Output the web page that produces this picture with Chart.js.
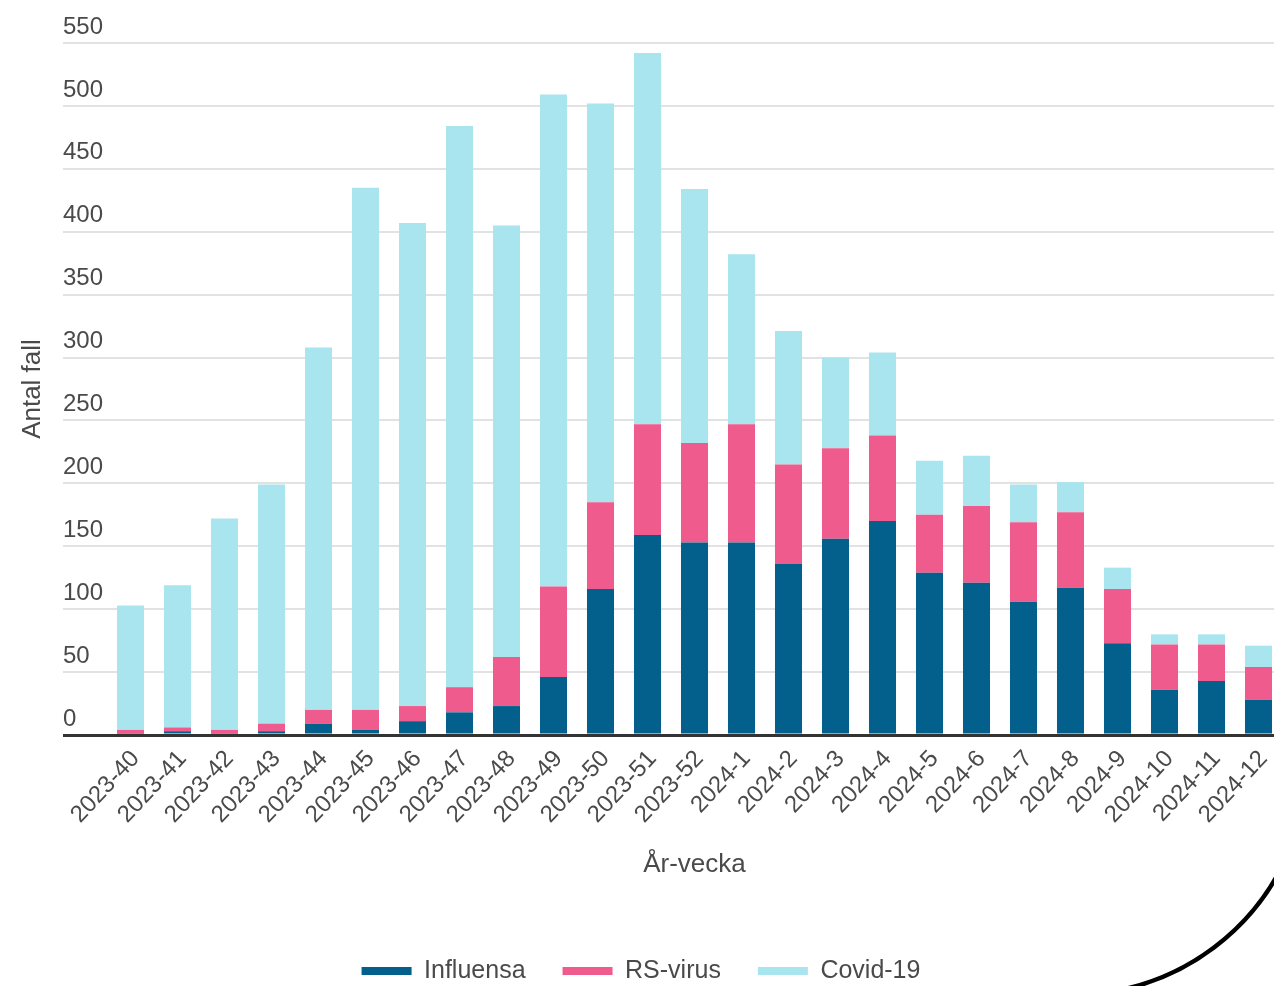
<!DOCTYPE html>
<html lang="sv">
<head>
<meta charset="utf-8">
<title>Antal fall per vecka</title>
<script src="https://cdn.jsdelivr.net/npm/chart.js@4/dist/chart.umd.min.js"></script>
<style>
  html, body { margin: 0; padding: 0; background: #fff; overflow: hidden; }
  canvas { display: block; }
</style>
</head>
<body>
<canvas id="myChart" width="1282" height="986"></canvas>
<script>
// veckor (år-vecka)
const labels = ['2023-40', '2023-41', '2023-42', '2023-43', '2023-44', '2023-45', '2023-46', '2023-47',
  '2023-48', '2023-49', '2023-50', '2023-51', '2023-52', '2024-1', '2024-2', '2024-3', '2024-4',
  '2024-5', '2024-6', '2024-7', '2024-8', '2024-9', '2024-10', '2024-11', '2024-12'];

// antal fall per sjukdom
const influensa = [1, 3, 1, 3, 9, 4, 11, 18, 23, 46, 116, 159, 153, 153, 136, 156, 170, 129, 121, 106, 117, 73, 36, 43, 28];
const rsVirus   = [3, 3, 3, 6, 11, 16, 12, 20, 39, 72, 69, 88, 79, 94, 79, 72, 68, 46, 61, 63, 60, 43, 36, 29, 26];
const covid19   = [99, 113, 168, 190, 288, 415, 384, 446, 343, 391, 317, 295, 202, 135, 106, 72, 66, 43, 40, 30, 24, 17, 8, 8, 17];

const yTicks = { min: 0, max: 550, step: 50 };

const textColor = '#4a4a4a';

// bågen nere till höger
const cornerArc = {
  id: 'cornerArc',
  afterDraw(chart) {
    const c = chart.ctx;
    c.save();
    c.beginPath();
    c.arc(1072, 759, 236, 0.45, 1.4);
    c.lineWidth = 4.5;
    c.strokeStyle = '#000';
    c.stroke();
    c.restore();
  }
};

const ctx = document.getElementById('myChart').getContext('2d');
const myChart = new Chart(ctx, {
  type: 'bar',
  data: {
    labels: labels,
    datasets: [
      { label: 'Influensa', data: influensa, backgroundColor: '#035f8c' },
      { label: 'RS-virus', data: rsVirus, backgroundColor: '#ef5b8c' },
      { label: 'Covid-19', data: covid19, backgroundColor: '#a9e5ee' }
    ]
  },
  options: {
    responsive: false,
    animation: false,
    categoryPercentage: 1,
    barPercentage: 0.575,
    layout: { padding: { top: 43, right: 0, bottom: -7.5, left: 0 } },
    font: { family: 'Arial, "Liberation Sans", sans-serif' },
    scales: {
      x: {
        stacked: true,
        grid: { display: false, drawTicks: false },
        border: { display: false },
        ticks: {
          autoSkip: false,
          maxRotation: 47,
          minRotation: 47,
          padding: 10,
          labelOffset: 5,
          color: textColor,
          font: { size: 24 }
        },
        title: {
          display: true,
          text: 'År-vecka',
          color: textColor,
          font: { size: 26 },
          padding: { top: 0, bottom: 41 }
        },
        afterFit: function(scale) {
          scale.height = 186.5;
          // staplarna ska gå ända ut till högerkanten
          scale.paddingLeft = 0;
          scale.paddingRight = 0;
        }
      },
      y: {
        stacked: true,
        min: yTicks.min,
        max: yTicks.max,
        border: { display: false },
        grid: {
          // nollinjen mörk och tjockare
          color: c => c.tick && c.tick.value === 0 ? '#333' : '#e2e2e2',
          lineWidth: c => c.tick && c.tick.value === 0 ? 3 : 2,
          drawTicks: true,
          tickLength: 44
        },
        ticks: {
          stepSize: yTicks.step,
          mirror: true,
          padding: -44,
          labelOffset: -16,
          color: textColor,
          font: { size: 24 }
        },
        title: {
          display: true,
          text: 'Antal fall',
          color: textColor,
          font: { size: 26 },
          padding: { top: 17, bottom: 0 }
        },
        afterFit: function(scale) { scale.width = 107; }
      }
    },
    plugins: {
      legend: {
        position: 'bottom',
        labels: {
          boxWidth: 50,
          boxHeight: 8,
          padding: 37,
          color: textColor,
          font: { size: 25 }
        }
      },
      tooltip: { enabled: false }
    }
  },
  plugins: [cornerArc]
});
</script>
</body>
</html>
